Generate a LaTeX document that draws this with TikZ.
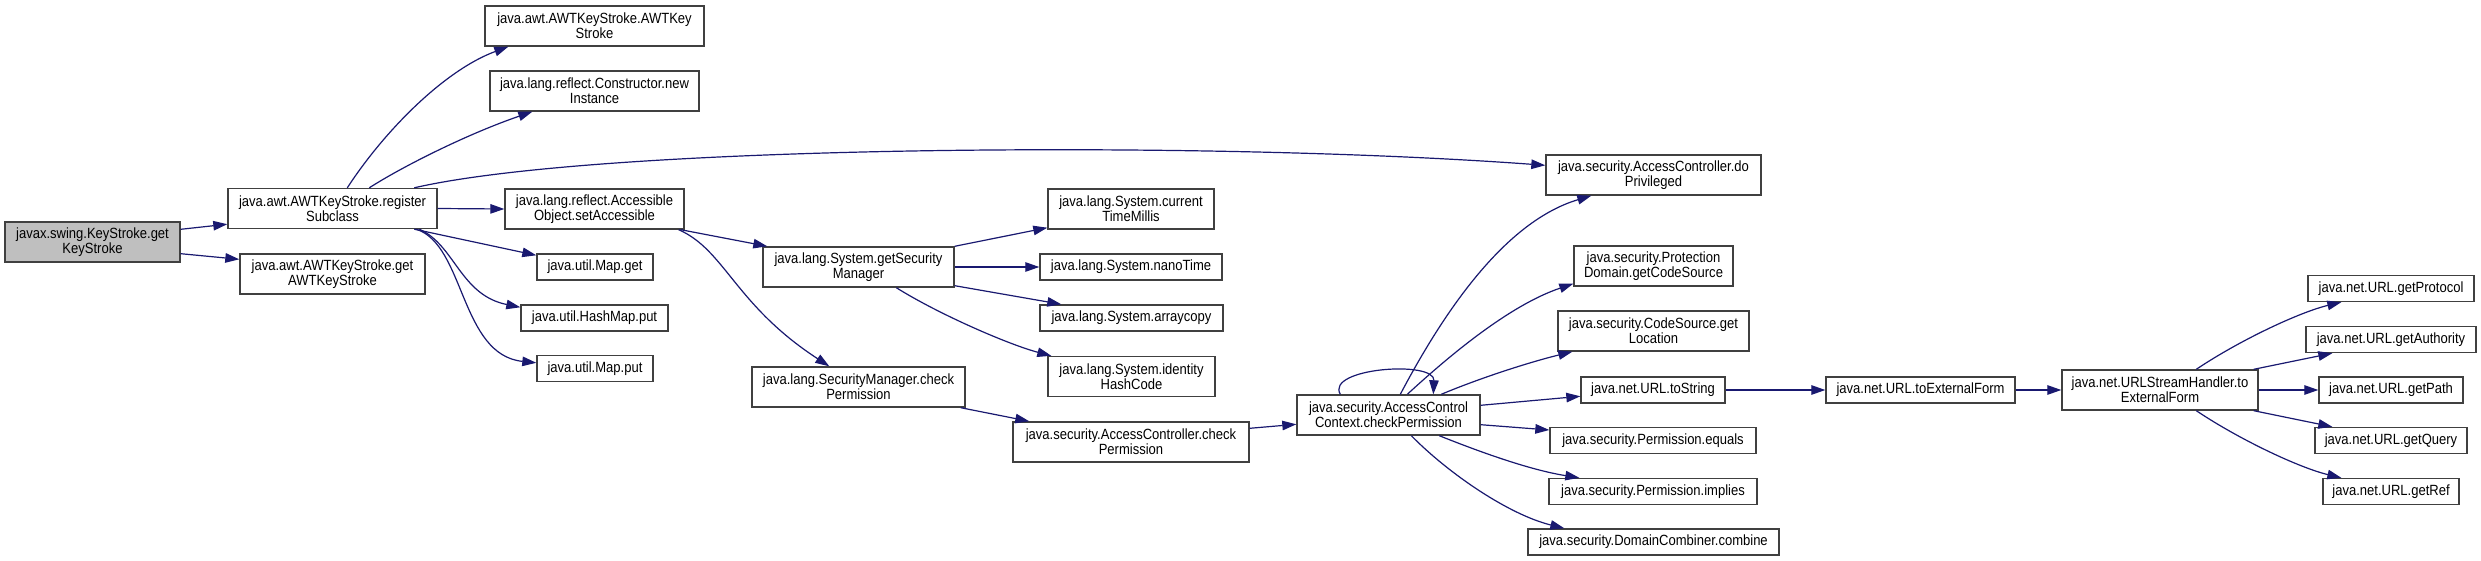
\documentclass[tikz,border=0pt]{standalone}
\usepackage{fontspec}
\setmainfont{Liberation Sans}[FakeStretch=0.88]
\usetikzlibrary{arrows.meta,calc}
\definecolor{edgec}{RGB}{25,25,112}
\definecolor{boxc}{RGB}{64,64,64}
\definecolor{grayfill}{RGB}{191,191,191}
\tikzset{
 box/.style={draw=boxc, line width=1.4pt, fill=white, inner sep=0pt, align=center,
   font=\fontsize{14.8}{15}\selectfont, text=black},
 root/.style={box, fill=grayfill},
 call/.style={draw=edgec, line width=1.2pt, -{Triangle[length=14pt,width=9.5pt]}},
}
\begin{document}
\begin{tikzpicture}[x=1pt,y=-1pt]
\fill[white] (0,0) rectangle (2481,561);
\useasboundingbox (0,0) rectangle (2481,561);

\node[root, minimum width=175pt, minimum height=40pt] (ks) at (92.5,242) {javax.swing.KeyStroke.get\\KeyStroke};
\node[box, minimum width=209pt, minimum height=40pt] (reg) at (332.5,208.5) {java.awt.AWTKeyStroke.register\\Subclass};
\node[box, minimum width=185pt, minimum height=40pt] (getawt) at (332.5,274) {java.awt.AWTKeyStroke.get\\AWTKeyStroke};
\node[box, minimum width=219pt, minimum height=40pt] (awtks) at (594.5,26) {java.awt.AWTKeyStroke.AWTKey\\Stroke};
\node[box, minimum width=209pt, minimum height=40pt] (newinst) at (594.5,91) {java.lang.reflect.Constructor.new\\Instance};
\node[box, minimum width=179pt, minimum height=40pt] (setacc) at (594.5,209) {java.lang.reflect.Accessible\\Object.setAccessible};
\node[box, minimum width=116pt, minimum height=26pt] (mapget) at (595,267) {java.util.Map.get};
\node[box, minimum width=147pt, minimum height=26pt] (hashput) at (594.5,318) {java.util.HashMap.put};
\node[box, minimum width=116pt, minimum height=26pt] (mapput) at (595,368.5) {java.util.Map.put};
\node[box, minimum width=191pt, minimum height=40pt] (getsm) at (858.5,267) {java.lang.System.getSecurity\\Manager};
\node[box, minimum width=213pt, minimum height=40pt] (smcheck) at (858.5,387) {java.lang.SecurityManager.check\\Permission};
\node[box, minimum width=166pt, minimum height=40pt] (ctm) at (1131,209) {java.lang.System.current\\TimeMillis};
\node[box, minimum width=182pt, minimum height=26pt] (nano) at (1131,267) {java.lang.System.nanoTime};
\node[box, minimum width=183pt, minimum height=26pt] (arr) at (1131.5,318) {java.lang.System.arraycopy};
\node[box, minimum width=167pt, minimum height=40pt] (ihc) at (1131.5,376.5) {java.lang.System.identity\\HashCode};
\node[box, minimum width=236pt, minimum height=40pt] (accheck) at (1131,442) {java.security.AccessController.check\\Permission};
\node[box, minimum width=183pt, minimum height=40pt] (accc) at (1388.5,415) {java.security.AccessControl\\Context.checkPermission};
\node[box, minimum width=215pt, minimum height=40pt] (dopriv) at (1653.5,175) {java.security.AccessController.do\\Privileged};
\node[box, minimum width=159pt, minimum height=40pt] (pd) at (1653.5,266) {java.security.Protection\\Domain.getCodeSource};
\node[box, minimum width=191pt, minimum height=40pt] (cs) at (1653.5,331) {java.security.CodeSource.get\\Location};
\node[box, minimum width=144pt, minimum height=26pt] (tostr) at (1653,390) {java.net.URL.toString};
\node[box, minimum width=189pt, minimum height=26pt] (toext) at (1920.5,390) {java.net.URL.toExternalForm};
\node[box, minimum width=206pt, minimum height=26pt] (eq) at (1653,440.7) {java.security.Permission.equals};
\node[box, minimum width=208pt, minimum height=26pt] (impl) at (1653,491.5) {java.security.Permission.implies};
\node[box, minimum width=251pt, minimum height=26pt] (comb) at (1653.5,542) {java.security.DomainCombiner.combine};
\node[box, minimum width=196pt, minimum height=40pt] (ush) at (2160,390) {java.net.URLStreamHandler.to\\ExternalForm};
\node[box, minimum width=166pt, minimum height=26pt] (proto) at (2391,288.5) {java.net.URL.getProtocol};
\node[box, minimum width=170pt, minimum height=26pt] (auth) at (2391,339.5) {java.net.URL.getAuthority};
\node[box, minimum width=144pt, minimum height=26pt] (path) at (2391,390) {java.net.URL.getPath};
\node[box, minimum width=152pt, minimum height=26pt] (query) at (2391,440.5) {java.net.URL.getQuery};
\node[box, minimum width=136pt, minimum height=26pt] (ref) at (2391,491.5) {java.net.URL.getRef};

% edges
\draw[call] ($(ks.north east)+(0,8)$) -- ($(reg.south west)+(0,-5)$);
\draw[call] ($(ks.south east)+(0,-9)$) -- ($(getawt.north west)+(0,6)$);
\draw[call] ($(reg.north west)+(120,0)$) .. controls (385,130) and (445,70) .. ($(awtks.south west)+(24,0)$);
\draw[call] ($(reg.north west)+(142,0)$) .. controls (405,165) and (470,133) .. ($(newinst.south west)+(43,0)$);
\draw[call] ($(reg.north west)+(187,0)$) .. controls (600,145) and (1200,140) .. ($(dopriv.north west)+(0,11)$);
\draw[call] (reg.east) -- (setacc.west);
\draw[call] ($(reg.south west)+(187,0)$) -- ($(mapget.north west)+(0,2)$);
\draw[call] ($(reg.south west)+(192,0)$) .. controls (455,245) and (460,295) .. ($(hashput.north west)+(0,3)$);
\draw[call] ($(reg.south west)+(189,0)$) .. controls (465,245) and (460,355) .. ($(mapput.north west)+(0,8)$);
\draw[call] ($(setacc.south east)+(-4,0)$) -- ($(getsm.north west)+(5,0)$);
\draw[call] ($(setacc.south east)+(-6,0)$) .. controls (725,250) and (735,305) .. ($(smcheck.north west)+(78,0)$);
\draw[call] (getsm.north east) -- ($(ctm.south west)+(0,-2)$);
\draw[call] (getsm.east) -- (nano.west);
\draw[call] ($(getsm.south east)+(0,-2)$) -- ($(arr.north west)+(22,0)$);
\draw[call] ($(getsm.south west)+(134,0)$) .. controls (940,315) and (1010,345) .. ($(ihc.north west)+(4,0)$);
\draw[call] ($(smcheck.south east)+(-5,0)$) -- ($(accheck.north west)+(17,0)$);
\draw[call] ($(accheck.north east)+(0,7)$) -- ($(accc.north west)+(0,30)$);
\draw[call] ($(accc.north west)+(44,0)$) .. controls (1325,368) and (1435,360) .. ($(accc.north west)+(137,0)$);
\draw[call] ($(accc.north west)+(104,0)$) .. controls (1450,300) and (1510,220) .. ($(dopriv.south west)+(46,0)$);
\draw[call] ($(accc.north west)+(111,0)$) .. controls (1450,355) and (1510,305) .. ($(pd.south west)+(0,-3)$);
\draw[call] ($(accc.north west)+(145,0)$) .. controls (1480,378) and (1530,362) .. ($(cs.south west)+(15,0)$);
\draw[call] ($(accc.north east)+(0,11)$) -- ($(tostr.north west)+(0,20)$);
\draw[call] ($(accc.south east)+(0,-11)$) -- ($(eq.north west)+(0,3)$);
\draw[call] ($(accc.south west)+(143,0)$) .. controls (1480,452) and (1530,470) .. ($(impl.north west)+(31,0)$);
\draw[call] ($(accc.south west)+(115,0)$) .. controls (1450,475) and (1510,515) .. ($(comb.north west)+(37,0)$);
\draw[call] (tostr.east) -- (toext.west);
\draw[call] (toext.east) -- (ush.west);
\draw[call] ($(ush.north west)+(135,0)$) .. controls (2240,340) and (2300,312) .. ($(proto.south west)+(34,0)$);
\draw[call] ($(ush.north east)+(-5,0)$) -- ($(auth.south west)+(27,0)$);
\draw[call] (ush.east) -- (path.west);
\draw[call] ($(ush.south east)+(-5,0)$) -- ($(query.north west)+(18,0)$);
\draw[call] ($(ush.south west)+(135,0)$) .. controls (2240,440) and (2300,468) .. ($(ref.north west)+(19,0)$);
\end{tikzpicture}
\end{document}
